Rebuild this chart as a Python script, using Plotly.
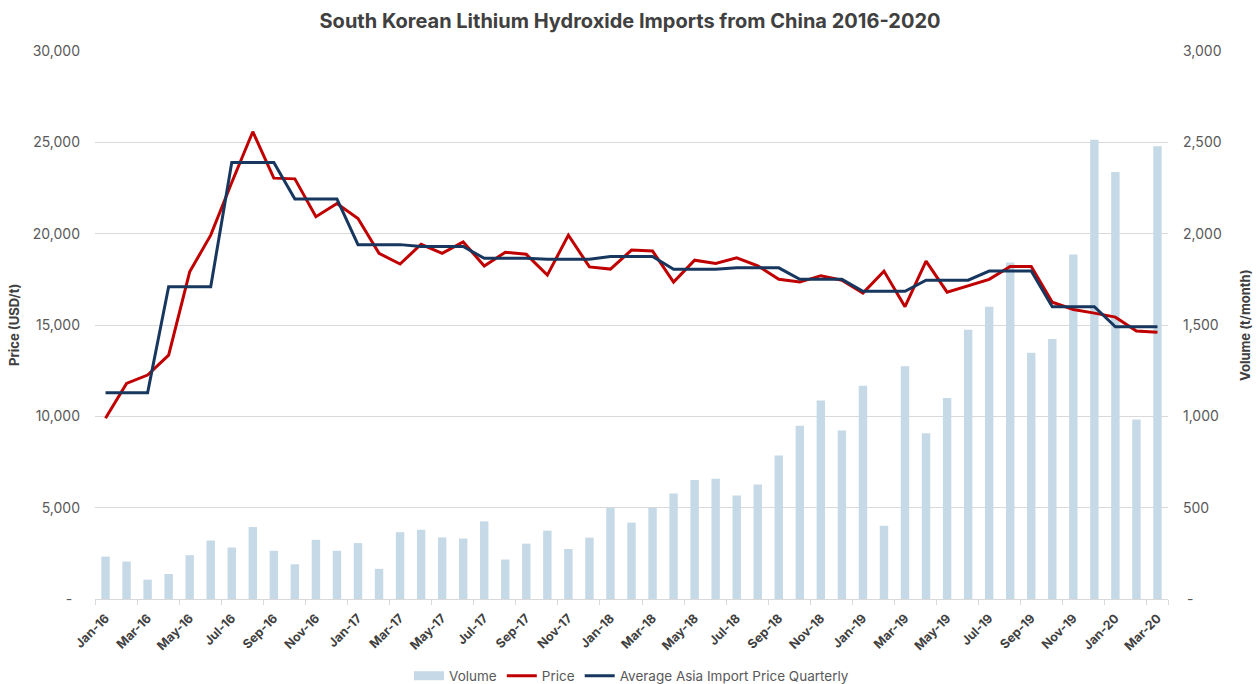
import plotly.graph_objects as go

months = ["Jan-16","Feb-16","Mar-16","Apr-16","May-16","Jun-16","Jul-16","Aug-16","Sep-16","Oct-16","Nov-16","Dec-16",
          "Jan-17","Feb-17","Mar-17","Apr-17","May-17","Jun-17","Jul-17","Aug-17","Sep-17","Oct-17","Nov-17","Dec-17",
          "Jan-18","Feb-18","Mar-18","Apr-18","May-18","Jun-18","Jul-18","Aug-18","Sep-18","Oct-18","Nov-18","Dec-18",
          "Jan-19","Feb-19","Mar-19","Apr-19","May-19","Jun-19","Jul-19","Aug-19","Sep-19","Oct-19","Nov-19","Dec-19",
          "Jan-20","Feb-20","Mar-20"]

volume = [232, 205, 106, 137, 240, 320, 282, 394, 264, 190, 324, 264,
          306, 165, 366, 379, 337, 331, 425, 216, 303, 374, 274, 336,
          500, 418, 500, 578, 651, 658, 567, 627, 785, 949, 1086, 922,
          1168, 401, 1274, 907, 1101, 1474, 1600, 1842, 1348, 1423, 1886, 2514,
          2338, 982, 2479]

price = [9890, 11800, 12260, 13350, 17910, 19920, 22800, 25580, 23040, 23000, 20930, 21650,
         20830, 18920, 18340, 19420, 18920, 19550, 18230, 18980, 18870, 17730, 19920, 18180,
         18060, 19100, 19050, 17350, 18550, 18370, 18680, 18240, 17500, 17350, 17700, 17450,
         16750, 17950, 16000, 18500, 16800, 17150, 17500, 18200, 18200, 16250, 15850, 15650,
         15430, 14670, 14600]

avg_quarterly = [11290, 11290, 11290, 17090, 17090, 17090, 23900, 23900, 23900, 21900, 21900, 21900,
                 19400, 19400, 19400, 19300, 19300, 19300, 18650, 18650, 18650, 18600, 18600, 18600,
                 18750, 18750, 18750, 18050, 18050, 18050, 18130, 18130, 18130, 17500, 17500, 17500,
                 16850, 16850, 16850, 17450, 17450, 17450, 17950, 17950, 17950, 16000, 16000, 16000,
                 14900, 14900, 14900]

NB = "\u00a0"
price_ticks = [0, 5000, 10000, 15000, 20000, 25000, 30000]
price_ticktext = ["-" + NB * 2, "5,000", "10,000", "15,000", "20,000", "25,000", "30,000"]
vol_ticks = [0, 500, 1000, 1500, 2000, 2500, 3000]
vol_ticktext = [NB + "-", "500", "1,000", "1,500", "2,000", "2,500", "3,000"]
xtick_labels = months[::2]

FONT = "Inter, Roboto, sans-serif"
TXT = "#595959"
DARK = "#404040"
BAR_COLOR = "#C6D9E7"

fig = go.Figure()
fig.add_trace(go.Bar(x=months, y=volume, name="Volume", marker_color=BAR_COLOR,
                     marker_line_width=0, yaxis="y", showlegend=False))
# legend-only entry so the Volume key is drawn as a wide swatch
fig.add_trace(go.Scatter(x=[None], y=[None], name="Volume", mode="lines",
                         line=dict(color=BAR_COLOR, width=9), yaxis="y"))
fig.add_trace(go.Scatter(x=months, y=price, name="Price", mode="lines",
                         line=dict(color="#C00000", width=3), yaxis="y2"))
fig.add_trace(go.Scatter(x=months, y=avg_quarterly, name="Average Asia Import Price Quarterly",
                         mode="lines", line=dict(color="#17375E", width=3), yaxis="y2"))

fig.update_layout(
    width=1260, height=684,
    paper_bgcolor="white", plot_bgcolor="white",
    margin=dict(l=95, r=92, t=51, b=85, autoexpand=False),
    font=dict(family=FONT, color=TXT, size=12),
    title=dict(text="<b>South Korean Lithium Hydroxide Imports from China 2016-2020</b>",
               x=0.5, xanchor="center", y=1 - 21 / 684, yanchor="middle",
               font=dict(size=20, color=DARK, family=FONT)),
    bargap=0.6,
    showlegend=True,
    legend=dict(orientation="h", x=0.5, xanchor="center", yref="container",
                y=1 - 676 / 684, yanchor="middle",
                font=dict(size=13.5, color=TXT), traceorder="normal"),
    xaxis=dict(type="category", tickmode="array", tickvals=xtick_labels, ticktext=xtick_labels,
               tickangle=-45, tickson="boundaries", ticks="outside", ticklen=5,
               tickcolor="#D9D9D9", showline=True, linecolor="#D9D9D9", linewidth=1,
               showgrid=False, automargin=False, ticklabelstandoff=6,
               tickfont=dict(size=12.5, color=DARK, family=FONT, weight="bold"),
               range=[-0.5, len(months) - 0.5]),
    yaxis=dict(side="right", range=[0, 3000], tickvals=vol_ticks, ticktext=vol_ticktext,
               showgrid=False, zeroline=False, showline=False, ticks="", automargin=False,
               ticklabelstandoff=14,
               tickfont=dict(size=14, color=TXT)),
    yaxis2=dict(side="left", overlaying="y", range=[0, 30000], tickvals=price_ticks,
                ticktext=price_ticktext, showgrid=True, gridcolor="#D9D9D9", gridwidth=1,
                zeroline=False, showline=False, ticks="", automargin=False,
                ticklabelstandoff=14,
                tickfont=dict(size=14, color=TXT)),
    annotations=[
        dict(text="<b>Price (USD/t)</b>", textangle=-90, xref="paper", yref="paper",
             x=-(95 - 14) / 1073, y=0.5, xanchor="center", yanchor="middle", showarrow=False,
             font=dict(size=13, color=DARK)),
        dict(text="<b>Volume (t/month)</b>", textangle=-90, xref="paper", yref="paper",
             x=1 + (1245 - 1168) / 1073, y=0.5, xanchor="center", yanchor="middle", showarrow=False,
             font=dict(size=13, color=DARK)),
    ],
)

fig.write_html("out.html", config={"displayModeBar": False},
               post_script="document.body.style.margin='0';document.body.style.overflow='hidden';")
